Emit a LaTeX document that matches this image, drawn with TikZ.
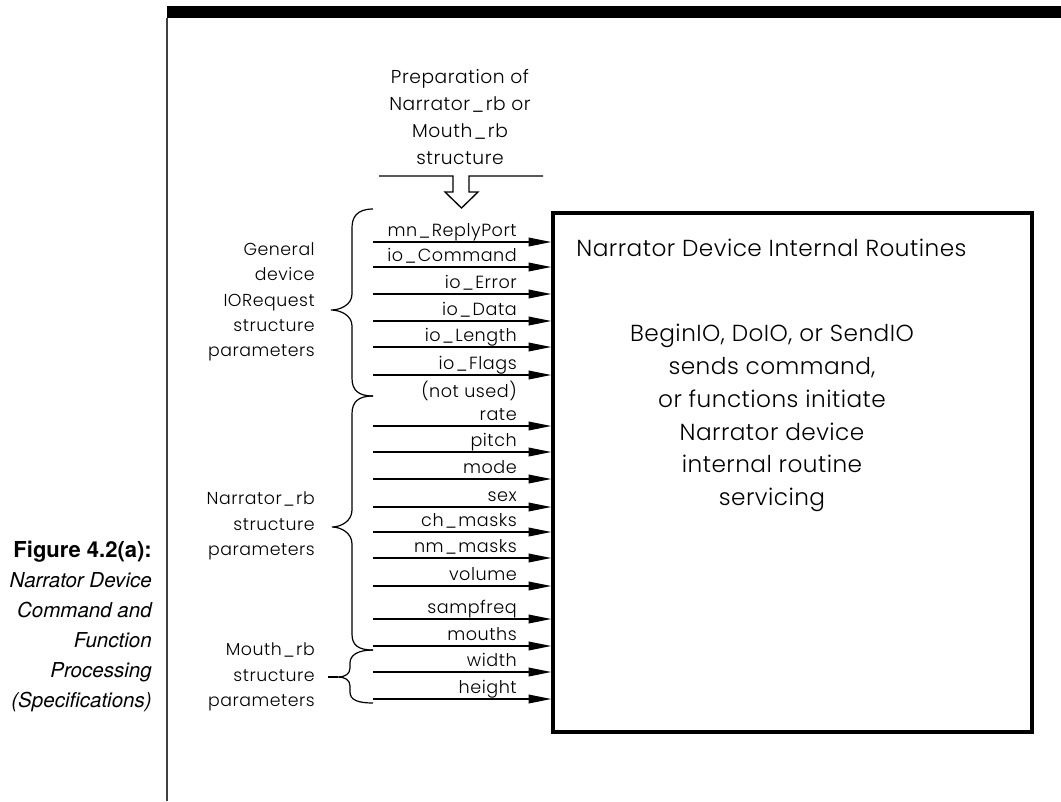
\documentclass[tikz,border=0pt]{standalone}
\usepackage{fontspec}
\usetikzlibrary{arrows.meta}
\newfontfamily\diagfam{Poppins Light}[LetterSpace=3]
\newfontfamily\boxfam{Poppins Light}[LetterSpace=2]
\newfontfamily\herosfam{TeX Gyre Heros}
\newcommand\us{\kern0.08em\_\kern0.08em}
\newcommand\lblfont{\diagfam\fontsize{13.2pt}{18pt}\selectfont}
\newcommand\sidefont{\diagfam\fontsize{13pt}{18.9pt}\selectfont}
\newcommand\topfont{\diagfam\fontsize{14pt}{20.3pt}\selectfont}
\newcommand\boxfont{\boxfam\fontsize{17.4pt}{24.6pt}\selectfont}
\newcommand\figcapfont{\herosfam\fontsize{15.4pt}{22.5pt}\selectfont}
\begin{document}
\begin{tikzpicture}[x=0.75pt,y=-0.75pt,
  arr/.style={line width=1.1pt,-{Triangle[length=17pt,width=6.5pt]}},
  brace/.style={line width=0.9pt},
  lbl/.style={font=\lblfont,inner sep=0pt,anchor=base east},
  side/.style={font=\sidefont,align=right,inner sep=0pt,anchor=east},
  boxtext/.style={font=\boxfont,align=center,inner sep=0pt}]
\useasboundingbox (0,0) rectangle (1061,801);
% page frame
\fill (167,6) rectangle (1061,18);
\draw[line width=1.1pt,black!75] (167,18) -- (167,801);
% caption
\node[font=\figcapfont,align=right,inner sep=0pt,anchor=east] (cap) at (152,626)
  {{\fontsize{16.5pt}{22.5pt}\bfseries Figure 4.2(a):}\\
   \itshape Narrator Device\\ \itshape Command and\\ \itshape Function\\
   \itshape Processing\\ \itshape (Specifications)};
% main box
\node[draw,line width=2.6pt,minimum width=359.25pt,minimum height=389.25pt,inner sep=0pt] (box) at (792.5,472.5) {};
\node[boxtext] (title) at (771.5,248) {Narrator Device Internal Routines};
\node[boxtext] (body) at (772,418) {BeginIO, DoIO, or SendIO\\ sends command,\\ or functions initiate\\ Narrator device\\ internal routine\\ servicing};
% top input
\node[font=\topfont,align=center,inner sep=0pt] (prep) at (460,117) {Preparation of\\ Narrator\us rb or\\ Mouth\us rb\\ structure};
\draw[line width=1pt] (379,176) -- (453,176) -- (453,192) -- (445,192) -- (461.5,208) -- (478,192) -- (469,192) -- (469,176) -- (543,176);
% arrows
\foreach \n/\y/\t in {a1/242/{mn\us ReplyPort},a2/267/{io\us Command},a3/294/{io\us Error},a4/321/{io\us Data},a5/347/{io\us Length},a6/375/{io\us Flags},a7/426/{rate},a8/452/{pitch},a9/479/{mode},a10/507/{sex},a11/532/{ch\us masks},a12/558/{nm\us masks},a13/586/{volume},a14/619/{sampfreq},a15/646/{mouths},a16/672/{width},a17/699/{height}}{
  \coordinate (\n) at (373,\y);
  \draw[arr] (\n) -- (\n -| box.west);
  \node[lbl] (l\n) at (517,\y-6) {\t};
}
\node[lbl] (notused) at (517,397) {(not used)};
% braces
\draw[brace] (373,209) .. controls (356,209) and (352,218) .. (352,228) -- (352,294)
  .. controls (352,305) and (340,310) .. (331,310) .. controls (340,310) and (352,315) .. (352,326)
  -- (352,378) .. controls (352,390) and (358,396) .. (373,396);
\draw[brace] (373,396) .. controls (358,396) and (352,402) .. (352,414) -- (352,510)
  .. controls (352,521) and (341,527) .. (332,527) .. controls (341,527) and (352,533) .. (352,544)
  -- (352,634) .. controls (352,645) and (358,650) .. (373,650);
\draw[brace] (373,650) .. controls (358,650) and (350,655) .. (350,663) -- (350,668)
  .. controls (350,674) and (345,677) .. (338,677) .. controls (345,677) and (350,680) .. (350,686)
  -- (350,692) .. controls (350,700) and (358,703) .. (373,703);
\draw[brace] (338,677) -- (328,677);
% side labels
\node[side] (gen) at (315,302) {General\\ device\\ IORequest\\ structure\\ parameters};
\node[side] (narr) at (315,526) {Narrator\us rb\\ structure\\ parameters};
\node[side] (mouth) at (315,677) {Mouth\us rb\\ structure\\ parameters};
\end{tikzpicture}
\end{document}
